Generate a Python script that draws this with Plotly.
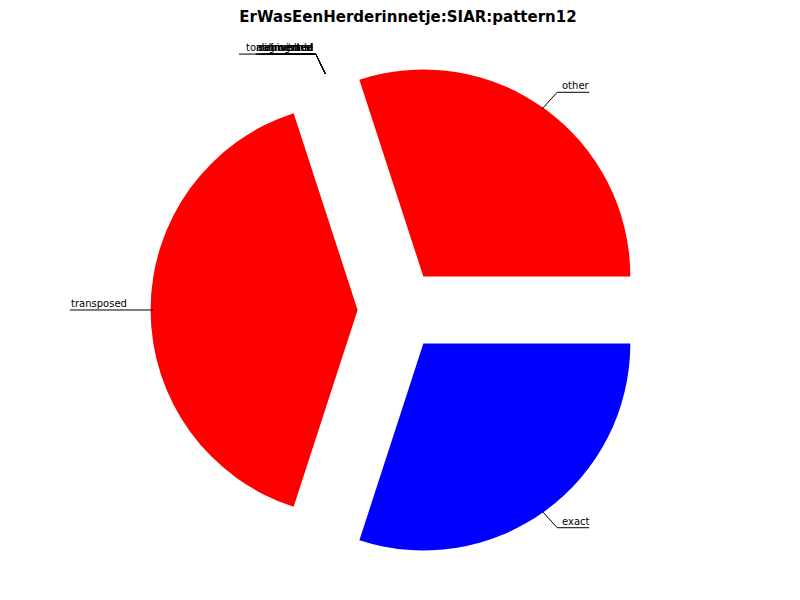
import math
import plotly.graph_objects as go

title = "ErWasEenHerderinnetje:SIAR:pattern12"
labels = ["other", "tonal", "inverted", "retrograde", "augmented",
          "diminished", "tonalinverted", "transposed", "exact"]
values = [3, 0, 0, 0, 0, 0, 0, 4, 3]
colors = ["#ff0000", "#ff0000", "#ff0000", "#ff0000", "#ff0000",
          "#ff0000", "#ff0000", "#ff0000", "#0000ff"]

W, H = 800, 600
pull = 0.2
dom_x = [0.17825, 0.79925]
dom_y = [0.08267, 0.91067]
FONT = "DejaVu Sans"
total = sum(values)

# plotly's counterclockwise mode ends the first slice at `rotation`;
# shift so the first slice starts at 3 o'clock (matplotlib startangle=0)
rotation = 90 - 360 * values[0] / total

fig = go.Figure(go.Pie(
    labels=labels, values=values, sort=False,
    direction="counterclockwise", rotation=rotation,
    pull=[pull] * len(values),
    marker=dict(colors=colors, line=dict(width=0)),
    textinfo="none", hoverinfo="label+value",
    showlegend=False,
    domain=dict(x=dom_x, y=dom_y),
))

# label geometry derived from the pie's own angles
box_w = (dom_x[1] - dom_x[0]) * W
box_h = (dom_y[1] - dom_y[0]) * H
R = min(box_w, box_h) / (2 * (1 + pull))
cx = (dom_x[0] + dom_x[1]) / 2 * W
cy = (1 - (dom_y[0] + dom_y[1]) / 2) * H


def px(x):
    return x / W


def py(y):
    return 1 - y / H


shapes = []
annotations = []
cum = 0
for lab, v in zip(labels, values):
    a0 = cum / total * 360
    cum += v
    a1 = cum / total * 360
    th = math.radians((a0 + a1) / 2)
    c, s_ = math.cos(th), math.sin(th)
    side = 1 if c >= 0 else -1
    Px = cx + (1 + pull) * R * c - side * 3
    Py = cy - (1 + pull) * R * s_
    Tx = cx + 1.3 * R * c
    Ty = cy - 1.3 * R * s_
    tw = 5.6 * len(lab)
    # connector from label to wedge
    shapes.append(dict(type="line", xref="paper", yref="paper",
                       x0=px(Tx), y0=py(Ty), x1=px(Px), y1=py(Py),
                       line=dict(color="black", width=1)))
    # underline under the label
    shapes.append(dict(type="line", xref="paper", yref="paper",
                       x0=px(Tx), y0=py(Ty), x1=px(Tx + side * (tw + 4)), y1=py(Ty),
                       line=dict(color="black", width=1)))
    annotations.append(dict(
        x=px(Tx + side * (4 if side > 0 else 2)), y=py(Ty),
        xref="paper", yref="paper",
        text=lab, showarrow=False, borderpad=0,
        xanchor="left" if side > 0 else "right", yanchor="bottom",
        font=dict(family=FONT, size=10, color="black")))

fig.update_layout(
    width=W, height=H,
    margin=dict(l=0, r=0, t=0, b=0),
    paper_bgcolor="white", plot_bgcolor="white",
    title=dict(text="<b>" + title + "</b>", x=0.5, xanchor="center",
               y=1 - 9 / H, yanchor="middle",
               font=dict(family=FONT, size=15, color="black")),
    shapes=shapes, annotations=annotations,
)

fig.write_html("out.html")
